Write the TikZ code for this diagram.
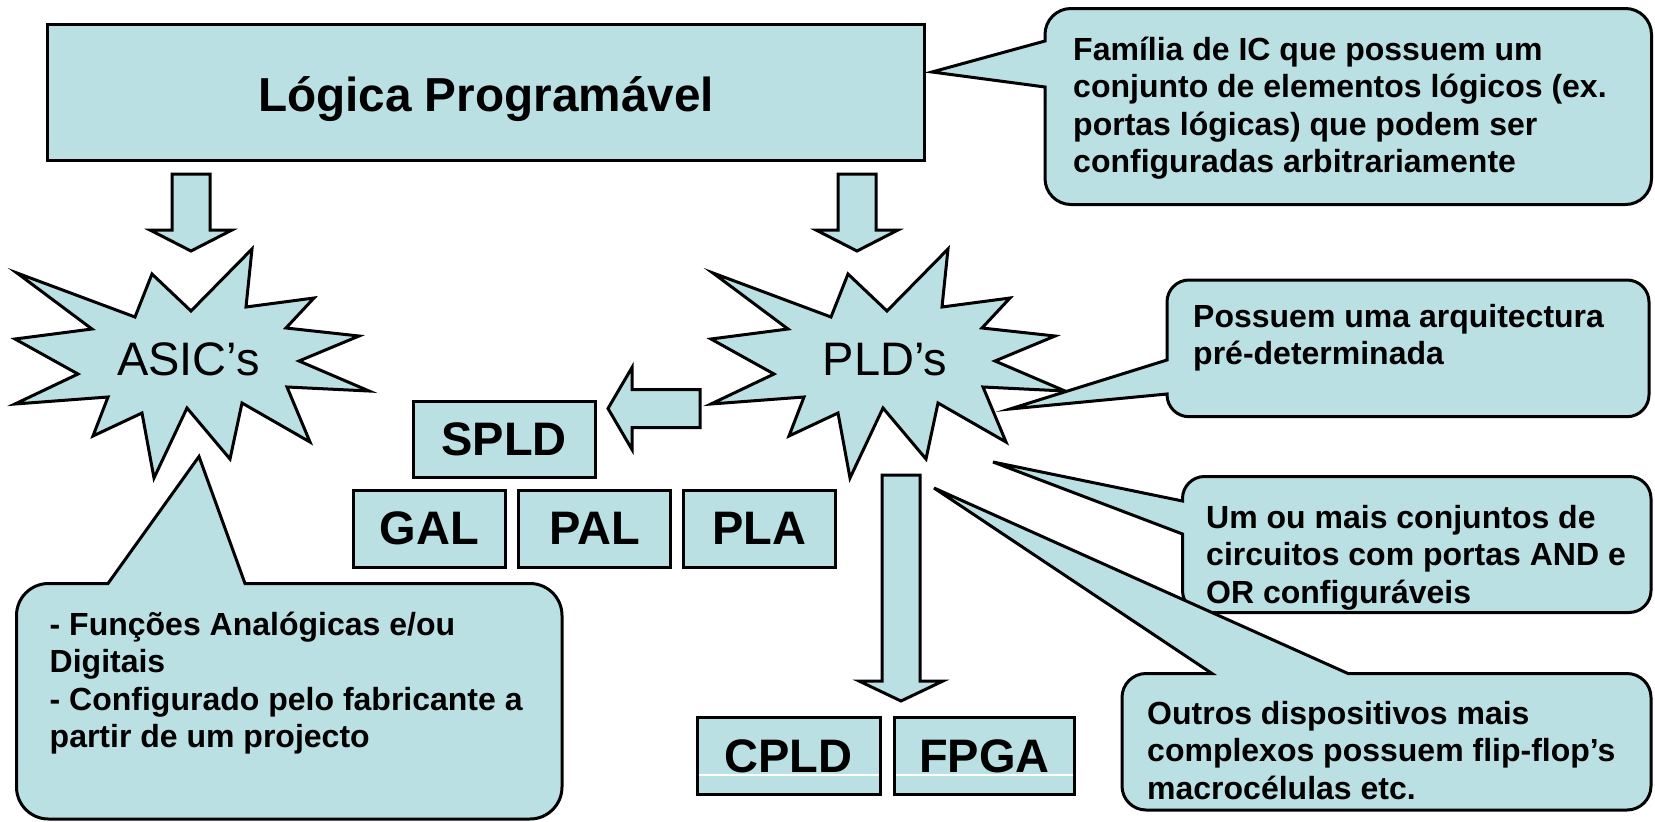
\documentclass[tikz,border=0pt]{standalone}
\usepackage{fontspec}
\setmainfont{Liberation Sans}
\usetikzlibrary{positioning,calc}

\definecolor{slidefill}{RGB}{187,224,227}

% star shaped outline round a point
\newcommand{\burst}[1]{%
  \draw[burst,shift={(#1)}] (-173,-87) -- (-55,-43) -- (-38,-86) -- (1,-49) -- (62,-111)
    -- (56,-53) -- (124,-62) -- (96,-32) -- (169,-24) -- (109,1) -- (179,31) -- (97,27)
    -- (120,82) -- (52,43) -- (40,99) -- (-3,48) -- (-36,118) -- (-48,53) -- (-97,76)
    -- (-82,37) -- (-175,44) -- (-112,14) -- (-175,-21) -- (-98,-31) -- cycle;}

% block arrow: tail, angle, length, start of head
\newcommand{\blockarrow}[4]{%
  \draw[barrow,shift={(#1)},rotate=#2] (0,-19) -- (#4,-19) -- (#4,-41) -- (#3,0)
    -- (#4,41) -- (#4,19) -- (0,19) -- cycle;}

\begin{document}
\begin{tikzpicture}[x=1pt, y=-1pt, node distance=165pt]
	\tikzstyle{lbox}=[draw=black, fill=slidefill, line width=3pt, inner sep=0pt, minimum width=152pt, minimum height=77pt, font=\bfseries\fontsize{47}{56}\selectfont]
	\tikzstyle{burst}=[draw=black, fill=slidefill, line width=3pt]
	\tikzstyle{barrow}=[draw=black, fill=slidefill, line width=3pt]
	\tikzstyle{bubble}=[draw=black, fill=slidefill, line width=3pt]
	\tikzstyle{note}=[anchor=base west, align=left, inner sep=0pt, font=\bfseries\fontsize{32}{37.5}\selectfont]
	\tikzstyle{bursttext}=[anchor=base, inner sep=0pt, font=\fontsize{47}{56}\selectfont]

	\fill[white] (0,0) rectangle (1655,822);
	\useasboundingbox (0,0) rectangle (1655,822);

	\node[lbox, minimum width=877pt, minimum height=136pt, text height=38pt, text depth=0pt, font=\bfseries\fontsize{47.7}{57}\selectfont] (title) at (486,92) {Lógica Programável};

	% callout of the title (text placed by its last line)
	\coordinate (tipic) at (932,72);
	\draw[bubble] (1045,87) [rounded corners=26pt] -- (1045,204.5) -- (1651.5,204.5) -- (1651.5,8.5)
		-- (1045,8.5) [sharp corners] -- (1045,41) -- (tipic) -- cycle;
	\node[note] (noteic) at (1073,172.5) {Família de IC que possuem um\\conjunto de elementos lógicos (ex.\\portas lógicas) que podem ser\\configuradas arbitrariamente};

	% arrows down
	\coordinate (asicin) at (191,174);
	\coordinate (pldin) at (857,174);
	\blockarrow{asicin}{-90}{77}{56}
	\blockarrow{pldin}{-90}{77}{56}

	% the two stars
	\coordinate (asicc) at (190,360);
	\coordinate (pldc) at (886,360);
	\burst{asicc}
	\burst{pldc}
	\node[bursttext] (asic) at ($(asicc)+(-1.5,15)$) {ASIC’s};
	\node[bursttext] (pld) at ($(pldc)+(-1,15)$) {PLD’s};

	% simple PLDs
	\coordinate (spldin) at (700,408.5);
	\blockarrow{spldin}{180}{92}{68}
	\node[lbox, minimum width=182pt, minimum height=76pt] (spld) at (504,439) {SPLD};
	\node[lbox] (gal) at (429.5,528.5) {GAL};
	\node[lbox] (pal) [right of=gal] {PAL};
	\node[lbox] (pla) [right of=pal] {PLA};

	% complex PLDs
	\coordinate (cpldin) at (901,475);
	\draw[barrow] ($(cpldin)+(-19,0)$) -- ($(cpldin)+(19,0)$) -- ($(cpldin)+(19,206)$) -- ($(cpldin)+(42,206)$)
		-- ($(cpldin)+(0,226)$) -- ($(cpldin)+(-42,206)$) -- ($(cpldin)+(-19,206)$) -- cycle;
	\node[lbox, minimum width=183pt] (cpld) at (788.5,756) {CPLD};
	\node[lbox, minimum width=180pt] (fpga) [right of=cpld, node distance=196pt] {FPGA};
	\draw[white, line width=1.5pt] ($(cpld.west)+(3,19)$) -- ($(cpld.east)+(-3,19)$);
	\draw[white, line width=1.5pt] ($(fpga.west)+(3,19)$) -- ($(fpga.east)+(-3,19)$);

	% callouts of the PLDs
	\coordinate (tiparq) at (1010,409);
	\draw[bubble] (1167,394) [rounded corners=22pt] -- (1167,416.7) -- (1649,416.7) -- (1649,280)
		-- (1167,280) [sharp corners] -- (1167,360) -- (tiparq) -- cycle;
	\node[note] (notearq) at (1193,364.5) {Possuem uma arquitectura\\pré-determinada};

	\coordinate (tipandor) at (993,462);
	\draw[bubble] (1182.5,534) [rounded corners=22pt] -- (1182.5,612.5) -- (1651,612.5) -- (1651,476.5)
		-- (1182.5,476.5) [sharp corners] -- (1182.5,501) -- (tipandor) -- cycle;
	\node[note] (noteandor) at (1206,603) {Um ou mais conjuntos de\\circuitos com portas AND e\\OR configuráveis};

	\coordinate (tipoutros) at (934,488);
	\draw[bubble] (1212,673.5) [rounded corners=24pt] -- (1122,673.5) -- (1122,810) -- (1651,810)
		-- (1651,673.5) [sharp corners] -- (1348,673.5) -- (tipoutros) -- cycle;
	\node[note] (noteoutros) at (1147,799) {Outros dispositivos mais\\complexos possuem flip-flop’s\\macrocélulas etc.};

	% callout of the ASICs
	\coordinate (tipasic) at (199,456.5);
	\draw[bubble] (108,583.5) [rounded corners=32pt] -- (16.5,583.5) -- (16.5,819) -- (562,819)
		-- (562,583.5) [sharp corners] -- (245,583.5) -- (tipasic) -- cycle;
	\node[note] (noteasic) at (49.5,747.5) {- Funções Analógicas e/ou\\Digitais\\- Configurado pelo fabricante a\\partir de um projecto};
\end{tikzpicture}
\end{document}
